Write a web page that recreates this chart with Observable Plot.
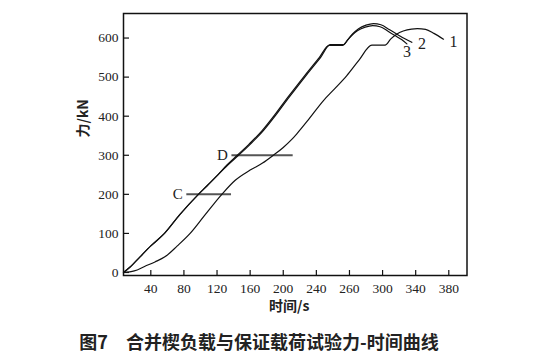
<!DOCTYPE html>
<html>
<head>
<meta charset="utf-8">
<script src="https://cdn.jsdelivr.net/npm/d3@7"></script>
<script src="https://cdn.jsdelivr.net/npm/@observablehq/plot@0.6"></script>
<style>
  body { margin: 0; background: #fff; }
  #wrap { position: relative; width: 550px; height: 357px; }
  #caption { position: absolute; left: 0; top: 331px; width: 518px; text-align: center;
    font-family: "Noto Sans CJK SC", sans-serif; font-weight: bold; font-size: 18px; line-height: 20px; color: #222; }
</style>
</head>
<body>
<div id="wrap"><div id="chart"></div><div id="caption"></div></div>
<script>
// Tick positions (linear time units) and the printed labels
const xTicks = [40, 80, 120, 160, 200, 240, 280, 320, 360, 400];
const xTickLabels = ["40", "80", "120", "160", "200", "240", "260", "300", "340", "380"];
const yTicks = [0, 100, 200, 300, 400, 500, 600];

// Curve 1
const t1 = [7, 20, 33, 45, 57, 72, 87.5, 105, 125.8, 142, 160, 175, 188, 200, 210, 216.4, 230, 248.6, 262, 276.8, 292, 307, 323, 330, 337, 345, 355, 362, 372, 382, 393.6];
const f1 = [0, 4, 16, 27, 40, 68, 100, 146, 200, 236, 262, 280, 300, 320, 340, 355, 390, 440, 470, 504, 545, 582, 582, 598, 610, 618, 623, 624, 622, 612, 597];
// Curve 2
const t2 = [7, 15, 27, 40, 56.5, 75, 97.5, 108, 121, 133, 146, 160, 176, 190, 204, 218, 232, 245, 256.7, 273, 278, 284, 291, 300, 309, 318, 328, 338, 347, 355.4];
const f2 = [0, 14, 40, 68, 100, 148, 200, 222, 250, 275, 300, 328, 363, 400, 440, 478, 516, 550, 583, 583, 596, 611, 624, 633, 637, 634, 622, 609, 598, 589];
// Curve 3
const t3 = [7, 15, 27, 40, 56.5, 75, 97.5, 108, 121, 132, 144.5, 158.5, 174.5, 188.5, 202.5, 216.5, 230.5, 243.5, 255.5, 272, 277, 283, 290, 299, 308, 317, 327, 337, 343, 349.4];
const f3 = [0, 14, 40, 68, 100, 148, 200, 222, 250, 275, 300, 328, 363, 400, 440, 478, 516, 550, 581, 581, 593, 607, 619, 628, 632, 629, 617, 604, 596, 585];

// Reference levels C and D
const refNames = ["C", "D"];
const refLevels = [200, 300];
const refStart = [83.5, 138];
const refEnd = [137.5, 212];

// Curve end labels
const curveNames = ["1", "2", "3"];
const curveLabelT = [405.7, 367.5, 349.4];
const curveLabelF = [589, 585, 565];

const series = [];
[[t1, f1, "1"], [t2, f2, "2"], [t3, f3, "3"]].forEach(([ts, fs, k]) =>
  ts.forEach((t, i) => series.push({t, f: fs[i], k})));
const refs = refNames.map((n, i) => ({n, y: refLevels[i], x1: refStart[i], x2: refEnd[i]}));
const labels = curveNames.map((n, i) => ({n, t: curveLabelT[i], f: curveLabelF[i]}));

const serif = "Liberation Serif";
const cjk = "Noto Sans CJK SC";
const chart = Plot.plot({
  width: 550,
  height: 320,
  marginLeft: 123,
  marginRight: 83.5,
  marginTop: 13,
  marginBottom: 45,
  style: {fontFamily: serif, fontSize: "13.5px", color: "#222", background: "#fff"},
  x: {domain: [7, 422]},
  y: {domain: [-7.7, 662.8]},
  marks: [
    Plot.ruleY(refs, {y: "y", x1: "x1", x2: "x2", stroke: "#555", strokeWidth: 2}),
    Plot.text(refs, {y: "y", x: "x1", text: "n", textAnchor: "end", dx: -4, fontSize: 15, fontFamily: serif, fill: "#222"}),
    Plot.line(series, {x: "t", y: "f", z: "k", stroke: "#111", strokeWidth: 1.2, curve: "monotone-x"}),
    Plot.text(labels, {x: "t", y: "f", text: "n", fontSize: 16, fontFamily: serif, fill: "#222"}),
    Plot.axisX({ticks: xTicks, tickFormat: (d) => xTickLabels[xTicks.indexOf(d)], tickSize: -5, tickPadding: 13, label: null, stroke: "#111", strokeWidth: 1.2, fill: "#222", fontFamily: serif, fontSize: 13.5}),
    Plot.axisY({ticks: yTicks, tickSize: -6, tickPadding: 11, label: null, stroke: "#111", strokeWidth: 1.2, fill: "#222", fontFamily: serif, fontSize: 13.5}),
    Plot.frame({stroke: "#111", strokeWidth: 1.5}),
    Plot.text(["时间/s"], {frameAnchor: "bottom", lineAnchor: "middle", dx: -6, dy: 31, fontSize: 14, fontWeight: "bold", fontFamily: cjk, fill: "#222"}),
    Plot.text(["力/kN"], {frameAnchor: "left", lineAnchor: "middle", dx: -40, dy: -7, rotate: -90, fontSize: 14, fontWeight: "bold", fontFamily: cjk, fill: "#222"})
  ]
});
// Force serif digits on every numeric label
chart.querySelectorAll("text").forEach((t) => {
  if (/^\d+$/.test(t.textContent.trim())) {
    t.setAttribute("font-family", serif);
    t.style.fontFamily = "'Liberation Serif', serif";
  }
});
document.getElementById("chart").appendChild(chart);
document.getElementById("caption").textContent = "图7\u2003合并楔负载与保证载荷试验力-时间曲线";
</script>
</body>
</html>
